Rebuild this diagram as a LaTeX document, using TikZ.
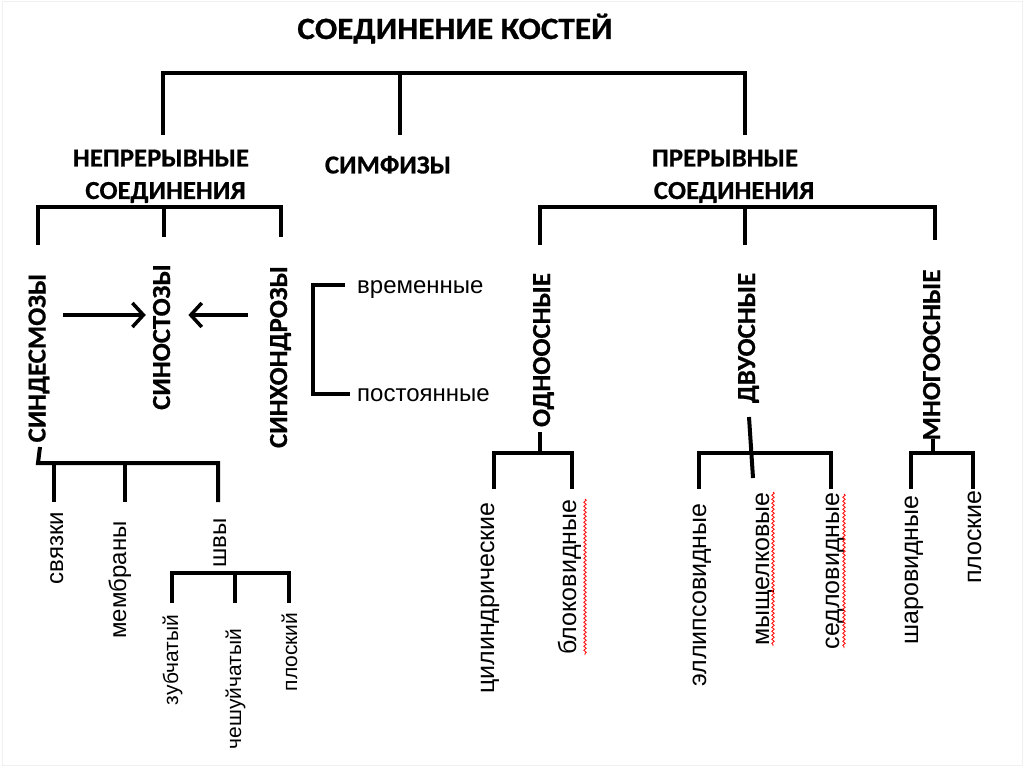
\documentclass[tikz,border=0pt]{standalone}
\usepackage{fontspec}
\setmainfont{Liberation Sans}
\newfontfamily\calfont{Carlito}[FakeStretch=1.03, BoldFeatures={FakeBold=0.6}]
\newfontfamily\titlefont{Carlito}[FakeStretch=1.07, BoldFeatures={FakeBold=0.6}]
\usetikzlibrary{arrows.meta,decorations.pathmorphing}
\begin{document}
\begin{tikzpicture}[x=1pt,y=-1pt,
  ln/.style={line width=4pt, line join=miter, line cap=butt},
  arr/.style={line width=4pt, -{Straight Barb[length=11pt,width=24pt,line width=3.5pt]}},
  bl/.style={font=\calfont\bfseries\fontsize{26}{26}\selectfont, inner sep=0pt, anchor=base},
  ttl/.style={font=\titlefont\bfseries\fontsize{31}{31}\selectfont, inner sep=0pt, anchor=base},
  sm/.style={font=\fontsize{24}{24}\selectfont, inner sep=0pt, anchor=base},
  smr/.style={font=\fontsize{25}{25}\selectfont, inner sep=0pt, anchor=base},
  sms/.style={font=\fontsize{21}{21}\selectfont, inner sep=0pt, anchor=base},
  rot/.style={rotate=90},
  spell/.style={red, line width=0.8pt, decorate, decoration={snake, amplitude=1.2pt, segment length=4pt}}
]
\useasboundingbox (0,0) rectangle (1024,767);
\fill[white] (0,0) rectangle (1024,767);
\draw[black!6, line width=1pt] (2,2) rectangle (1022,765);

% ---------- texts ----------
\node[ttl] (title) at (455,39) {СОЕДИНЕНИЕ КОСТЕЙ};
\node[bl] (nepr1) at (161,166.5) {НЕПРЕРЫВНЫЕ};
\node[bl] (nepr2) at (165.5,199) {СОЕДИНЕНИЯ};
\node[bl] (simf) at (388,173.5) {СИМФИЗЫ};
\node[bl] (prer1) at (725,166.5) {ПРЕРЫВНЫЕ};
\node[bl] (prer2) at (734,199) {СОЕДИНЕНИЯ};

\node[bl,rot] (synd) at (45.5,358) {СИНДЕСМОЗЫ};
\node[bl,rot] (synost) at (170,337) {СИНОСТОЗЫ};
\node[bl,rot] (synch) at (287,357) {СИНХОНДРОЗЫ};
\node[bl,rot] (odno) at (550,350) {ОДНООСНЫЕ};
\node[bl,rot] (dvu) at (755,338) {ДВУОСНЫЕ};
\node[bl,rot] (mnogo) at (940,355) {МНОГООСНЫЕ};

\node[sm,anchor=base west] (vrem) at (357,293) {временные};
\node[sm,anchor=base west] (post) at (357,401) {постоянные};

\node[sm,rot] (svyaz) at (63,548) {связки};
\node[sm,rot] (membr) at (126,580) {мембраны};
\node[sm,rot] (shvy) at (226,543) {швы};
\node[sms,rot] (zub) at (178,660) {зубчатый};
\node[sms,rot] (chesh) at (241,689) {чешуйчатый};
\node[sms,rot] (plosk) at (297,652) {плоский};

\node[smr,rot] (cil) at (494,598) {цилиндрические};
\node[smr,rot] (blok) at (576,577) {блоковидные};
\node[smr,rot] (ell) at (706,595) {эллипсовидные};
\node[smr,rot] (mysh) at (769,569) {мыщелковые};
\node[smr,rot] (sedl) at (839,571) {седловидные};
\node[smr,rot] (shar) at (918,570) {шаровидные};
\node[smr,rot] (plo) at (981,537) {плоские};

% ---------- coordinates ----------
\coordinate (topbar) at (0,73);
\coordinate (t1) at (163,135);
\coordinate (t2) at (400,135);
\coordinate (t3) at (745,135);

\coordinate (lbar) at (0,207);
\coordinate (l1) at (38,245);
\coordinate (l2) at (164,237);
\coordinate (l3) at (281,237);

\coordinate (r1) at (540,245);
\coordinate (r2) at (745,245);
\coordinate (r3) at (935,240);

\coordinate (arry) at (0,315);

\coordinate (c1) at (345,285);
\coordinate (c2) at (313,285);
\coordinate (c3) at (313,394);
\coordinate (c4) at (350,394);

\coordinate (sd0) at (40,447);
\coordinate (sdbar) at (0,463);
\coordinate (sdL) at (38,463);
\coordinate (sd1) at (54,502);
\coordinate (sd2) at (125,502);
\coordinate (sd3) at (218,502);

\coordinate (swbar) at (0,573);
\coordinate (sw1) at (172,603);
\coordinate (sw2) at (235,603);
\coordinate (sw3) at (289,603);

\coordinate (rbar) at (0,453);
\coordinate (o0) at (540,432);
\coordinate (o1) at (494,489);
\coordinate (o2) at (572,489);
\coordinate (d0) at (749,417);
\coordinate (d9) at (753,478);
\coordinate (d1) at (699,489);
\coordinate (d2) at (831,489);
\coordinate (m0) at (933,439);
\coordinate (m1) at (911,489);
\coordinate (m2) at (973,489);

% ---------- brackets ----------
\draw[ln] (t1) -- (t1 |- topbar) -- (t3 |- topbar) -- (t3);
\draw[ln] (t2) -- (t2 |- topbar);

\draw[ln] (l1) -- (l1 |- lbar) -- (l3 |- lbar) -- (l3);
\draw[ln] (l2) -- (l2 |- lbar);

\draw[ln] (r1) -- (r1 |- lbar) -- (r3 |- lbar) -- (r3);
\draw[ln] (r2) -- (r2 |- lbar);

\draw[ln] (c1) -- (c2) -- (c3) -- (c4);

\draw[ln] (sd0) -- (sdL) -- (sd3 |- sdbar) -- (sd3);
\draw[ln] (sd1) -- (sd1 |- sdbar);
\draw[ln] (sd2) -- (sd2 |- sdbar);

\draw[ln] (sw1) -- (sw1 |- swbar) -- (sw3 |- swbar) -- (sw3);
\draw[ln] (sw2) -- (sw2 |- swbar);

\draw[ln] (o0) -- (o0 |- rbar);
\draw[ln] (o1) -- (o1 |- rbar) -- (o2 |- rbar) -- (o2);
\draw[ln] (d0) -- (d9);
\draw[ln] (d1) -- (d1 |- rbar) -- (d2 |- rbar) -- (d2);
\draw[ln] (m0) -- (m0 |- rbar);
\draw[ln] (m1) -- (m1 |- rbar) -- (m2 |- rbar) -- (m2);

% ---------- arrows ----------
\draw[arr, shorten <=13pt, shorten >=7pt] (synd.south |- arry) -- (synost.north |- arry);
\draw[arr, shorten <=22pt, shorten >=18pt] (synch.north |- arry) -- (synost.south |- arry);

% ---------- spelling marks ----------
\draw[spell] (585,499) -- (585,655);
\draw[spell] (773,492) -- (773,646);
\draw[spell] (844,494) -- (844,648);
\end{tikzpicture}
\end{document}
